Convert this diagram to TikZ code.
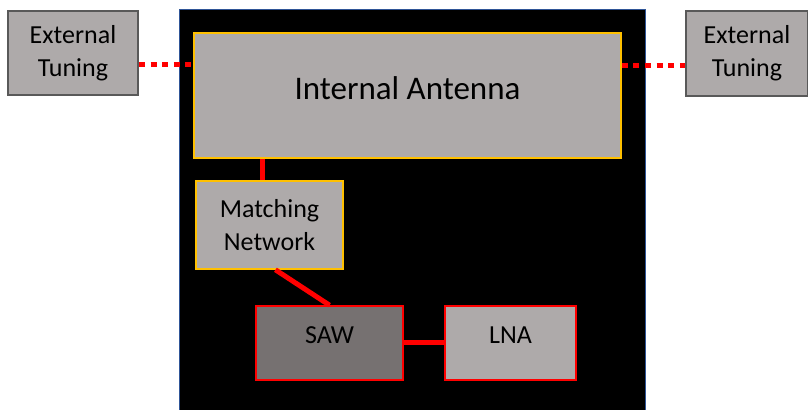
\documentclass[tikz,border=0pt]{standalone}
\usepackage{fontspec}
\setmainfont{Carlito}
\usetikzlibrary{calc}
\definecolor{boxgrey}{HTML}{AEAAAA}
\definecolor{sawgrey}{HTML}{767171}
\definecolor{edgegrey}{HTML}{595959}
\definecolor{antgold}{HTML}{FFC000}
\definecolor{boardblue}{HTML}{2F5597}
\begin{document}
\begin{tikzpicture}[x=0.5pt, y=-0.5pt,
    blk/.style={draw, rectangle, fill=boxgrey, align=center, inner sep=0pt, font=\fontsize{13}{16.5}\selectfont},
    ext/.style={blk, draw=edgegrey, line width=1pt},
    gold/.style={blk, draw=antgold, line width=0.8pt},
    redbox/.style={blk, draw=red, line width=0.8pt, text depth=8pt},
    rf/.style={red, line width=2.5pt},
    tune/.style={red, line width=2.5pt, dash pattern=on 3pt off 2.8pt}]
                \useasboundingbox (0,0) rectangle (808,410);
                % Board
                \node[fill=black, inner sep=0pt, minimum width=232.5pt, minimum height=200pt] (board) at (412.5,210) {};
                \draw[boardblue, line width=0.8pt] (board.south west) -- (board.north west) -- (board.north east) -- (board.south east);
                % External tuning
                \node[ext, minimum width=65pt, minimum height=42pt] (ext1) at (73,53) {External\\Tuning};
                \node[ext, minimum width=61pt, minimum height=42.5pt] (ext2) at (747,53.5) {External\\Tuning};
                % Antenna and matching
                \node[gold, minimum width=213.5pt, minimum height=62.5pt, text depth=7pt, font=\fontsize{16.5}{20}\selectfont] (ant) at (407.5,95.5) {Internal Antenna};
                \node[gold, minimum width=73.5pt, minimum height=44pt] (mn) at (269.5,225) {Matching\\Network};
                % Front end
                \node[redbox, fill=sawgrey, minimum width=73.5pt, minimum height=37pt] (saw) at (329.5,343) {SAW};
                \node[redbox, minimum width=65.5pt, minimum height=37pt] (lna) at (510.5,343) {LNA};

                % Connections
                \coordinate (mntop) at ($(mn.north west)!0.45!(mn.north east)$);
                \draw[rf] (mntop |- ant.south) -- (mntop);
                \draw[rf] ($(mn.south west)!0.54!(mn.south east)$) -- (saw.north);
                \draw[rf] (saw.east) -- (lna.west);
                \coordinate (t1) at ($(ext1.north east)!0.63!(ext1.south east)$);
                \coordinate (t2) at ($(ext2.north west)!0.64!(ext2.south west)$);
                \draw[tune] (t1) -- (t1 -| ant.west);
                \draw[tune] (t2 -| ant.east) -- (t2);
\end{tikzpicture}
\end{document}
